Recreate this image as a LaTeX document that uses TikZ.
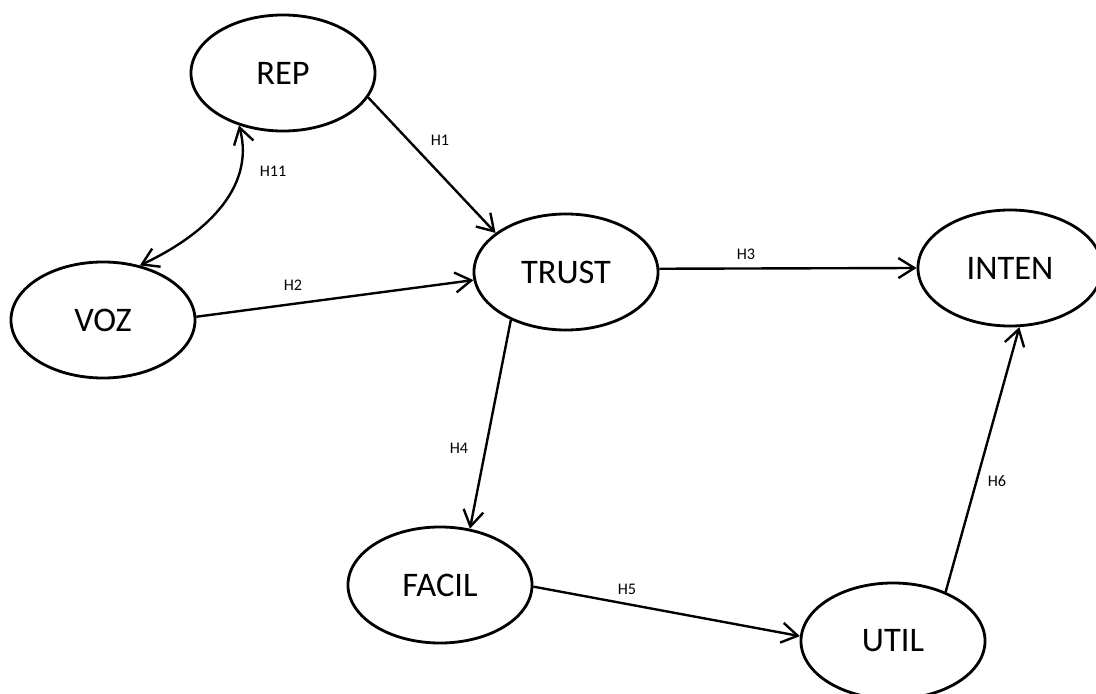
\documentclass[tikz,border=0pt]{standalone}
\usepackage{fontspec}
\setmainfont{Carlito}
\usetikzlibrary{shapes.geometric,arrows.meta}

\tikzset{
  construct/.style={ellipse, draw, line width=2pt, minimum width=4.6cm, minimum height=2.9cm, inner sep=0pt, font=\fontsize{24.5}{28}\selectfont},
  hyp/.style={line width=1.7pt, -{Straight Barb[length=4mm,width=5mm,line width=1.7pt]}},
  twoway/.style={line width=1.7pt, {Straight Barb[length=4mm,width=5mm,line width=1.7pt]}-{Straight Barb[length=4mm,width=5mm,line width=1.7pt]}},
  hlabel/.style={font=\fontsize{11.5}{13}\selectfont}
}

\begin{document}
\begin{tikzpicture}[x=0.025cm, y=-0.025cm]
    \useasboundingbox (0,0) rectangle (1096,694);

    % constructs
    \node[construct] (rep) at (283,73) {REP};
    \node[construct] (voz) at (103,320) {VOZ};
    \node[construct] (trust) at (566,272) {TRUST};
    \node[construct] (inten) at (1010,268) {INTEN};
    \node[construct] (facil) at (440,585) {FACIL};
    \node[construct] (util) at (893,641) {UTIL};

    % hypotheses
    \draw[hyp] (rep.-16) -- (trust.151);
    \draw[hyp] (voz.2) -- (trust.185);
    \draw[hyp] (trust.2) -- (inten.180);
    \draw[hyp] (trust.221) -- (facil.62);
    \draw[hyp] (facil.-1) -- (util.177);
    \draw[hyp] (util.43) -- (inten.279);
    \draw[twoway] (rep.230) to[out=-75, in=25] (voz.56);

    % labels
    \node[hlabel] (h1) at (440,140) {H1};
    \node[hlabel] (h11) at (273,171) {H11};
    \node[hlabel] (h2) at (293,285) {H2};
    \node[hlabel] (h3) at (746,254) {H3};
    \node[hlabel] (h4) at (459,448) {H4};
    \node[hlabel] (h5) at (627,589) {H5};
    \node[hlabel] (h6) at (997,481) {H6};

\end{tikzpicture}
\end{document}
